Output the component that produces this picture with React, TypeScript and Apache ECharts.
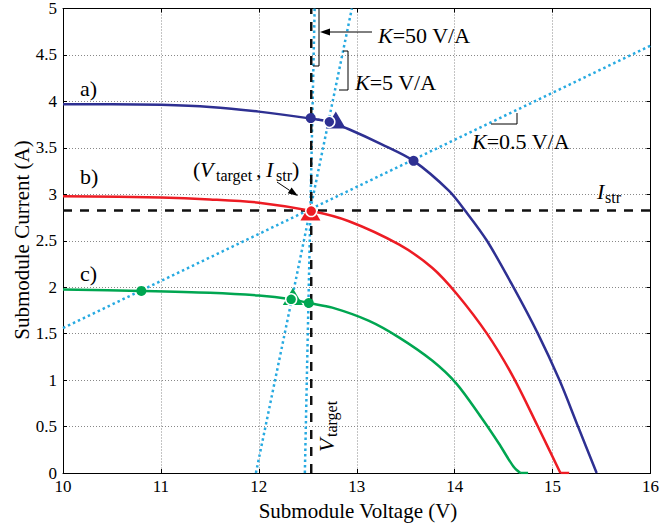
import React, { useEffect, useRef } from "react";
import * as echarts from "echarts";

// ---- axis ranges ----
const X_MIN = 10;
const X_MAX = 16;
const X_STEP = 1;
const Y_MIN = 0;
const Y_MAX = 5;
const Y_STEP = 0.5;

// ---- I-V curves (V, I) ----
const curveA: [number, number][] = [
  [10, 3.97], [10.5, 3.97], [11, 3.963], [11.5, 3.94], [12, 3.89], [12.5, 3.82],
  [12.72, 3.78], [12.92, 3.7], [13.25, 3.54], [13.58, 3.36], [13.94, 3.04],
  [14.11, 2.82], [14.33, 2.5], [14.6, 2.0], [14.85, 1.5], [15.07, 1.0], [15.26, 0.5], [15.45, 0],
];
const curveB: [number, number][] = [
  [10, 2.98], [11, 2.965], [11.5, 2.945], [12, 2.91], [12.54, 2.82], [12.92, 2.71],
  [13.43, 2.46], [13.77, 2.21], [14.02, 1.93], [14.33, 1.5], [14.6, 1.03], [14.85, 0.5],
  [15.08, 0],
];
const tailB: [number, number][] = [[15.08, 0], [15.17, 0]];
const curveC: [number, number][] = [
  [10, 1.975], [10.8, 1.96], [11.5, 1.94], [12, 1.91], [12.33, 1.87], [12.51, 1.83],
  [12.75, 1.78], [13.12, 1.64], [13.43, 1.46], [13.77, 1.21], [14.02, 0.96], [14.27, 0.6],
  [14.45, 0.32], [14.6, 0.07], [14.67, 0],
];
const tailC: [number, number][] = [[14.67, 0], [14.75, 0]];

// ---- operating lines ----
const lineK50: [number, number][] = [[12.47, 0], [12.57, 5]];
const lineK5: [number, number][] = [[11.97, 0], [12.95, 5]];
const lineK05: [number, number][] = [[10, 1.56], [16, 4.6]];
const V_TARGET = 12.535;
const I_STR = 2.825;
const vTargetLine: [number, number][] = [[V_TARGET, 0], [V_TARGET, 5]];
const iStrLine: [number, number][] = [[10, I_STR], [16, I_STR]];

// ---- markers (a, b, c) ----
const dotsA: [number, number][] = [[12.53, 3.82], [13.58, 3.36]];
const dotsC: [number, number][] = [[10.8, 1.96], [12.51, 1.83]];
const ringPts: [number, number][] = [[12.72, 3.78], [12.535, 2.82], [12.33, 1.87]];
const triPts: [number, number][] = [[12.786, 3.8], [12.527, 2.81], [12.347, 1.9]];
const stepA: [number, number][] = [[12.53, 3.82], [12.72, 3.78]];

const NAVY = "#2e3092";
const RED = "#ed1c24";
const GREEN = "#00a651";
const CYAN = "#27aae1";
const CURVE_COLORS = [NAVY, RED, GREEN];
const SERIF = "'Liberation Serif', 'Times New Roman', serif";

function txt(x: number, y: number, text: string, size: number, italic = false, extra: any = {}) {
  return {
    type: "text",
    x,
    y,
    z: 100,
    style: {
      text,
      fill: "#000",
      fontSize: size,
      fontFamily: SERIF,
      fontStyle: italic ? "italic" : "normal",
      align: "left",
      verticalAlign: "middle",
      ...extra,
    },
  };
}

function seg(x1: number, y1: number, x2: number, y2: number) {
  return {
    type: "line",
    z: 100,
    shape: { x1, y1, x2, y2 },
    style: { stroke: "#000", lineWidth: 1 },
  };
}

function arrow(x1: number, y1: number, x2: number, y2: number) {
  const dx = x2 - x1;
  const dy = y2 - y1;
  const len = Math.hypot(dx, dy);
  const ux = dx / len;
  const uy = dy / len;
  const hl = 10;
  const hw = 3.5;
  const bx = x2 - ux * hl;
  const by = y2 - uy * hl;
  return [
    seg(x1, y1, bx, by),
    {
      type: "polygon",
      z: 100,
      shape: { points: [[x2, y2], [bx - uy * hw, by + ux * hw], [bx + uy * hw, by - ux * hw]] },
      style: { fill: "#000" },
    },
  ];
}

function kLabel(x: number, y: number, rest: string) {
  return {
    type: "text",
    x,
    y,
    z: 100,
    style: {
      text: "{k|K}{n|" + rest + "}",
      align: "left",
      verticalAlign: "middle",
      rich: {
        k: { fontSize: 22, fontFamily: SERIF, fontStyle: "italic", fill: "#000", color: "#000" },
        n: { fontSize: 22, fontFamily: SERIF, fill: "#000", color: "#000" },
      },
    },
  };
}

export default function App() {
  const ref = useRef<HTMLDivElement>(null);
  useEffect(() => {
    const chart = echarts.init(ref.current!, null, { renderer: "svg" });
    const axisCommon = {
      type: "value",
      axisLine: { show: true, onZero: false, lineStyle: { color: "#000", width: 1 } },
      axisTick: { show: true, inside: true, length: 4, lineStyle: { color: "#000" } },
    };
    const lineSeries = (data: any, color: string, width: number, type: any, z: number) => ({
      type: "line",
      data,
      showSymbol: false,
      symbol: "none",
      silent: true,
      z,
      lineStyle: { color, width, type, cap: "butt" },
    });
    const curve = (data: any, color: string) => ({
      type: "line",
      data,
      smooth: 0.3,
      showSymbol: false,
      symbol: "none",
      z: 5,
      lineStyle: { color, width: 2.5 },
    });

    const option: any = {
      animation: false,
      grid: { left: 63, right: 9, top: 8, bottom: 57, containLabel: false },
      xAxis: [
        {
          ...axisCommon,
          min: X_MIN,
          max: X_MAX,
          interval: X_STEP,
          position: "bottom",
          axisLabel: { color: "#000", fontSize: 17, fontFamily: SERIF, margin: 5 },
          splitLine: { show: true, lineStyle: { color: "#888", width: 1, type: [1, 2] } },
        },
        {
          ...axisCommon,
          min: X_MIN,
          max: X_MAX,
          interval: X_STEP,
          position: "top",
          axisLabel: { show: false },
          splitLine: { show: false },
        },
      ],
      yAxis: [
        {
          ...axisCommon,
          min: Y_MIN,
          max: Y_MAX,
          interval: Y_STEP,
          position: "left",
          axisLabel: { color: "#000", fontSize: 17, fontFamily: SERIF, margin: 6 },
          splitLine: { show: true, lineStyle: { color: "#888", width: 1, type: [1, 2] } },
        },
        {
          ...axisCommon,
          min: Y_MIN,
          max: Y_MAX,
          interval: Y_STEP,
          position: "right",
          axisLabel: { show: false },
          splitLine: { show: false },
        },
      ],
      series: [
        lineSeries(lineK50, CYAN, 2.5, [2.5, 3], 2),
        lineSeries(lineK5, CYAN, 2.5, [2.5, 3], 2),
        lineSeries(lineK05, CYAN, 2.5, [2.5, 3], 2),
        lineSeries(vTargetLine, "#111", 2.5, [9, 8], 3),
        lineSeries(iStrLine, "#111", 2.5, [9, 8], 3),
        curve(curveA, NAVY),
        curve(curveB, RED),
        lineSeries(tailB, RED, 2.5, "solid", 5),
        curve(curveC, GREEN),
        lineSeries(tailC, GREEN, 2.5, "solid", 5),
        lineSeries(stepA, NAVY, 2, [4, 3], 6),
        {
          type: "custom",
          z: 7,
          silent: true,
          encode: { x: 0, y: 1 },
          data: triPts.map((p, i) => [p[0], p[1], i]),
          renderItem: (_params: any, api: any) => {
            const c = api.coord([api.value(0), api.value(1)]);
            const w = 20;
            const h = 17;
            return {
              type: "polygon",
              shape: {
                points: [
                  [c[0], c[1] - h / 2],
                  [c[0] - w / 2, c[1] + h / 2],
                  [c[0] + w / 2, c[1] + h / 2],
                ],
              },
              style: { fill: CURVE_COLORS[api.value(2)], stroke: "none" },
            };
          },
        },
        {
          type: "scatter",
          z: 8,
          symbol: "circle",
          symbolSize: 10,
          itemStyle: { opacity: 1 },
          data: [
            ...dotsA.map((p) => ({ value: p, itemStyle: { color: NAVY, opacity: 1 } })),
            ...dotsC.map((p) => ({ value: p, itemStyle: { color: GREEN, opacity: 1 } })),
          ],
        },
        {
          type: "scatter",
          z: 9,
          symbol: "circle",
          symbolSize: 11,
          itemStyle: { opacity: 1 },
          data: ringPts.map((p, i) => ({
            value: p,
            itemStyle: { color: CURVE_COLORS[i], borderColor: "#fff", borderWidth: 1.5, opacity: 1 },
          })),
        },
      ],
      graphic: [
        // axis titles
        txt(358, 511, "Submodule Voltage (V)", 21, false, { align: "center" }),
        {
          type: "text",
          x: 22,
          y: 240,
          rotation: Math.PI / 2,
          z: 100,
          style: {
            text: "Submodule Current (A)",
            fill: "#000",
            fontSize: 21,
            fontFamily: SERIF,
            align: "center",
            verticalAlign: "middle",
          },
        },
        // curve labels
        txt(80, 88.5, "a)", 22),
        txt(80, 176, "b)", 22),
        txt(80, 273, "c)", 22),
        // K labels
        kLabel(378, 35.5, "=50 V/A"),
        kLabel(355, 82.5, "=5 V/A"),
        kLabel(472, 141.5, "=0.5 V/A"),
        ...arrow(372, 32, 320, 32),
        seg(319, 8, 319, 66),
        seg(313, 66, 319, 66),
        seg(343, 51, 348, 51),
        seg(348, 51, 348, 90),
        seg(339, 90, 348, 90),
        seg(491, 124, 517, 124),
        seg(517, 113, 517, 124),
        // (V_target, I_str)
        txt(193, 169.5, "(", 22),
        txt(200, 169.5, "V", 22, true),
        txt(216, 175.5, "target", 16),
        txt(256, 169.5, ",", 22),
        txt(266, 169.5, "I", 22, true),
        txt(276, 175.5, "str", 16),
        txt(292, 169.5, ")", 22),
        ...arrow(277, 182, 298, 196),
        // I_str
        txt(597, 191.5, "I", 22, true),
        txt(605, 197, "str", 16),
        // V_target rotated
        {
          type: "group",
          x: 326.5,
          y: 452,
          rotation: Math.PI / 2,
          z: 100,
          children: [
            txt(0, 0, "V", 22, true),
            txt(15, 5, "target", 16),
          ],
        },
      ],
    };
    chart.setOption(option);
    return () => chart.dispose();
  }, []);
  return (
    <div
      ref={ref}
      style={{ position: "absolute", left: 0, top: 0, width: 662, height: 530, background: "#fff" }}
    />
  );
}
